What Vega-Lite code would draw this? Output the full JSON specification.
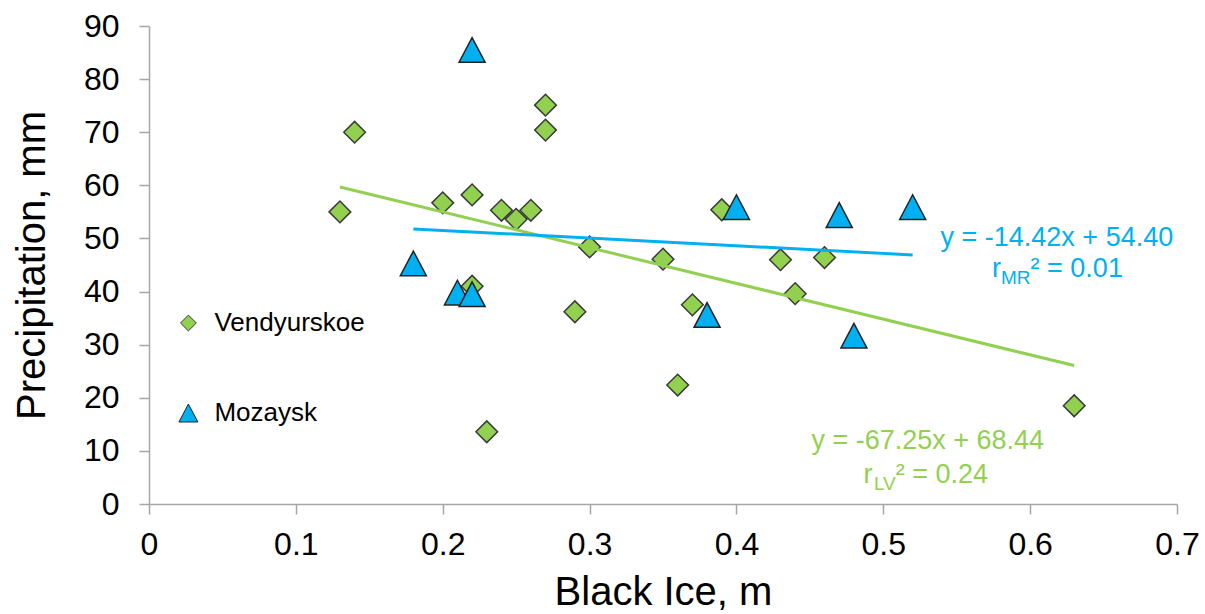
{
  "$schema": "https://vega.github.io/schema/vega-lite/v6.json",
  "width": 1028,
  "height": 478,
  "autosize": {"type": "none"},
  "padding": {"left": 149, "top": 26, "right": 28, "bottom": 110},
  "background": "white",
  "config": {"view": {"stroke": null}, "font": "Liberation Sans"},
  "datasets": {
    "points": [
      {"series": "Vendyurskoe", "ice": 0.13, "precip": 55.0},
      {"series": "Vendyurskoe", "ice": 0.14, "precip": 70.0},
      {"series": "Vendyurskoe", "ice": 0.20, "precip": 56.7},
      {"series": "Vendyurskoe", "ice": 0.22, "precip": 58.2},
      {"series": "Vendyurskoe", "ice": 0.22, "precip": 41.0},
      {"series": "Vendyurskoe", "ice": 0.23, "precip": 13.6},
      {"series": "Vendyurskoe", "ice": 0.24, "precip": 55.3},
      {"series": "Vendyurskoe", "ice": 0.25, "precip": 53.6},
      {"series": "Vendyurskoe", "ice": 0.26, "precip": 55.3},
      {"series": "Vendyurskoe", "ice": 0.27, "precip": 75.1},
      {"series": "Vendyurskoe", "ice": 0.27, "precip": 70.4},
      {"series": "Vendyurskoe", "ice": 0.29, "precip": 36.2},
      {"series": "Vendyurskoe", "ice": 0.30, "precip": 48.4},
      {"series": "Vendyurskoe", "ice": 0.35, "precip": 46.1},
      {"series": "Vendyurskoe", "ice": 0.36, "precip": 22.4},
      {"series": "Vendyurskoe", "ice": 0.37, "precip": 37.5},
      {"series": "Vendyurskoe", "ice": 0.39, "precip": 55.4},
      {"series": "Vendyurskoe", "ice": 0.43, "precip": 46.0},
      {"series": "Vendyurskoe", "ice": 0.44, "precip": 39.6},
      {"series": "Vendyurskoe", "ice": 0.46, "precip": 46.4},
      {"series": "Vendyurskoe", "ice": 0.63, "precip": 18.5},
      {"series": "Mozaysk", "ice": 0.22, "precip": 85.5},
      {"series": "Mozaysk", "ice": 0.18, "precip": 45.3},
      {"series": "Mozaysk", "ice": 0.21, "precip": 39.8},
      {"series": "Mozaysk", "ice": 0.22, "precip": 39.5},
      {"series": "Mozaysk", "ice": 0.38, "precip": 35.6},
      {"series": "Mozaysk", "ice": 0.40, "precip": 55.9},
      {"series": "Mozaysk", "ice": 0.47, "precip": 54.4},
      {"series": "Mozaysk", "ice": 0.48, "precip": 31.7},
      {"series": "Mozaysk", "ice": 0.52, "precip": 55.9}
    ],
    "trend": [
      {"series": "Vendyurskoe", "ice": 0.13, "precip": 59.70},
      {"series": "Vendyurskoe", "ice": 0.63, "precip": 26.07},
      {"series": "Mozaysk", "ice": 0.18, "precip": 51.80},
      {"series": "Mozaysk", "ice": 0.52, "precip": 46.90}
    ],
    "eqs": [
      {"series": "Mozaysk", "ice": 0.6182, "precip": 48.6, "label": "y = -14.42x + 54.40"},
      {"series": "Vendyurskoe", "ice": 0.5303, "precip": 10.4, "label": "y = -67.25x + 68.44"}
    ],
    "rs": [
      {"series": "Mozaysk", "ice": 0.6003, "precip": 42.8, "sub": "MR", "rest": "² = 0.01"},
      {"series": "Vendyurskoe", "ice": 0.5085, "precip": 3.9, "sub": "LV", "rest": "² = 0.24"}
    ]
  },
  "encoding": {
    "x": {
      "field": "ice",
      "type": "quantitative",
      "scale": {"domain": [0, 0.7], "nice": false, "zero": false},
      "axis": {
        "title": "Black Ice, m",
        "values": [0, 0.1, 0.2, 0.3, 0.4, 0.5, 0.6, 0.7],
        "format": "~g",
        "grid": false,
        "domainColor": "#A6A6A6",
        "domainWidth": 1.5,
        "tickColor": "#A6A6A6",
        "tickWidth": 1.5,
        "tickSize": 10,
        "labelFontSize": 32,
        "labelColor": "#000000",
        "labelPadding": 15,
        "labelFlush": false,
        "titleFontSize": 40,
        "titleFontWeight": "normal",
        "titleColor": "#000000",
        "titleBaseline": "alphabetic",
        "titleY": 100
      }
    },
    "y": {
      "field": "precip",
      "type": "quantitative",
      "scale": {"domain": [0, 90], "nice": false, "zero": false},
      "axis": {
        "title": "Precipitation, mm",
        "values": [0, 10, 20, 30, 40, 50, 60, 70, 80, 90],
        "grid": false,
        "domainColor": "#A6A6A6",
        "domainWidth": 1.5,
        "tickColor": "#A6A6A6",
        "tickWidth": 1.5,
        "tickSize": 10,
        "labelFontSize": 32,
        "labelColor": "#000000",
        "labelPadding": 20,
        "labelFlush": false,
        "titleFontSize": 40,
        "titleFontWeight": "normal",
        "titleColor": "#000000",
        "titleBaseline": "alphabetic",
        "titleX": -105
      }
    }
  },
  "layer": [
    {
      "data": {"name": "points"},
      "mark": {"type": "point", "filled": true, "opacity": 1, "size": 470, "strokeWidth": 1.5},
      "encoding": {
        "fill": {
          "field": "series",
          "type": "nominal",
          "scale": {"domain": ["Vendyurskoe", "Mozaysk"], "range": ["#92D050", "#00B0F0"]},
          "legend": {
            "title": null,
            "orient": "none",
            "legendX": 26.4,
            "legendY": 284,
            "direction": "vertical",
            "padding": 0,
            "symbolSize": 250,
            "symbolStrokeWidth": 1,
            "symbolOpacity": 1,
            "labelFontSize": 26,
            "labelColor": "#000000",
            "labelOffset": 13,
            "rowPadding": 64
          }
        },
        "stroke": {
          "field": "series",
          "type": "nominal",
          "scale": {"domain": ["Vendyurskoe", "Mozaysk"], "range": ["#3a3a3a", "#222222"]},
          "legend": {
            "title": null,
            "orient": "none",
            "legendX": 26.4,
            "legendY": 284,
            "direction": "vertical",
            "padding": 0,
            "symbolSize": 250,
            "symbolStrokeWidth": 1,
            "symbolOpacity": 1,
            "labelFontSize": 26,
            "labelColor": "#000000",
            "labelOffset": 13,
            "rowPadding": 64
          }
        },
        "shape": {
          "field": "series",
          "type": "nominal",
          "scale": {"domain": ["Vendyurskoe", "Mozaysk"], "range": ["diamond", "M0,-1.14L1.2,1.14L-1.2,1.14Z"]},
          "legend": {
            "title": null,
            "orient": "none",
            "legendX": 26.4,
            "legendY": 284,
            "direction": "vertical",
            "padding": 0,
            "symbolSize": 250,
            "symbolStrokeWidth": 1,
            "symbolOpacity": 1,
            "labelFontSize": 26,
            "labelColor": "#000000",
            "labelOffset": 13,
            "rowPadding": 64
          }
        }
      }
    },
    {
      "data": {"name": "trend"},
      "mark": {"type": "line", "strokeWidth": 3},
      "encoding": {
        "color": {"field": "series", "type": "nominal", "scale": {"domain": ["Vendyurskoe", "Mozaysk"], "range": ["#92D050", "#00B0F0"]}, "legend": null},
        "detail": {"field": "series"}
      }
    },
    {
      "data": {"name": "eqs"},
      "mark": {"type": "text", "fontSize": 27, "align": "center", "baseline": "alphabetic"},
      "encoding": {
        "text": {"field": "label"},
        "color": {"field": "series", "type": "nominal", "legend": null}
      }
    },
    {
      "data": {"name": "rs"},
      "mark": {"type": "text", "fontSize": 27, "align": "left", "baseline": "alphabetic"},
      "encoding": {
        "text": {"field": "rest"},
        "color": {"field": "series", "type": "nominal", "legend": null}
      }
    },
    {
      "data": {"name": "rs"},
      "mark": {"type": "text", "fontSize": 19, "align": "right", "baseline": "alphabetic", "dy": 7},
      "encoding": {
        "text": {"field": "sub"},
        "color": {"field": "series", "type": "nominal", "legend": null}
      }
    },
    {
      "data": {"name": "rs"},
      "transform": [{"filter": "datum.series === 'Mozaysk'"}],
      "mark": {"type": "text", "fontSize": 27, "align": "right", "baseline": "alphabetic", "dx": -29.5, "color": "#00B0F0", "text": "r"},
      "encoding": {}
    },
    {
      "data": {"name": "rs"},
      "transform": [{"filter": "datum.series === 'Vendyurskoe'"}],
      "mark": {"type": "text", "fontSize": 27, "align": "right", "baseline": "alphabetic", "dx": -23.2, "color": "#92D050", "text": "r"},
      "encoding": {}
    }
  ]
}
